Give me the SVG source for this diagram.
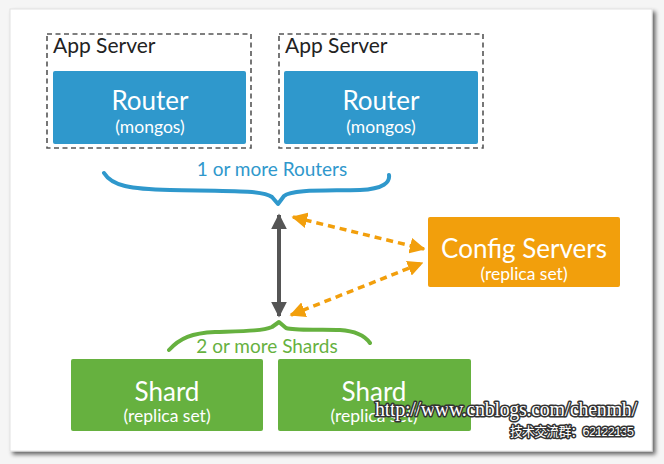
<svg xmlns="http://www.w3.org/2000/svg" width="664" height="464" viewBox="0 0 664 464">
<defs>
<style>
.t{font-family:Lato,"Open Sans","Liberation Sans",sans-serif;}
.big{font-size:26px;fill:#fff;text-anchor:middle;}
.sub{font-size:17.5px;fill:#fff;text-anchor:middle;}
.lbl{font-size:21px;fill:#222;}
.dash{fill:none;stroke:#555;stroke-width:1.6;stroke-dasharray:5,3.5;}
.router{fill:#2f98cc;}
.shard{fill:#66b13f;}
.cfg{fill:#f29f0c;}
.wm{font-family:"Liberation Serif",serif;fill:#fff;stroke:#333;stroke-width:3;paint-order:stroke;stroke-linejoin:round;}
</style>
<filter id="sh" x="-5%" y="-5%" width="115%" height="115%">
<feGaussianBlur in="SourceAlpha" stdDeviation="2"/>
<feOffset dx="3" dy="3"/>
<feComponentTransfer><feFuncA type="linear" slope="0.6"/></feComponentTransfer>
<feMerge><feMergeNode/><feMergeNode in="SourceGraphic"/></feMerge>
</filter>
<marker id="ga" viewBox="0 0 10 10" refX="9" refY="5" markerWidth="4" markerHeight="4" orient="auto-start-reverse" markerUnits="strokeWidth">
<path d="M0,0 L10,5 L0,10 z" fill="#555"/>
</marker>
<marker id="oa" viewBox="0 0 10 10" refX="9" refY="5" markerWidth="4.5" markerHeight="4.5" orient="auto-start-reverse" markerUnits="strokeWidth">
<path d="M0,0 L10,5 L0,10 z" fill="#f29f0c"/>
</marker>
</defs>
<rect width="664" height="464" fill="#f5f5f5"/>
<rect x="10" y="9" width="642" height="442" fill="#fff" stroke="#e2e2e2" stroke-width="1" filter="url(#sh)"/>

<g id="appserver1">
<rect class="dash" x="47" y="34" width="204" height="114"/>
<text class="t lbl" x="53" y="53">App Server</text>
</g>
<g id="router1">
<rect class="router" x="53" y="71" width="193" height="73" rx="2"/>
<text class="t big" x="150" y="110">Router</text>
<text class="t sub" x="150" y="133">(mongos)</text>
</g>
<g id="appserver2">
<rect class="dash" x="279" y="34" width="204" height="114"/>
<text class="t lbl" x="285" y="53">App Server</text>
</g>
<g id="router2">
<rect class="router" x="284" y="71" width="194" height="73" rx="2"/>
<text class="t big" x="381" y="110">Router</text>
<text class="t sub" x="381" y="133">(mongos)</text>
</g>

<g id="routers-brace">
<text class="t" x="272" y="176" font-size="19" fill="#2f98cc" text-anchor="middle">1 or more Routers</text>
<path d="M104,173 C112,186 130,189 170,190 C230,191 262,190 272,197 L278,204 L284,196 C292,189 330,191 360,190 C384,189 390,182 389,175" fill="none" stroke="#2f98cc" stroke-width="4" stroke-linecap="round" stroke-linejoin="round"/>
</g>

<g id="config">
<rect class="cfg" x="428" y="217" width="192" height="70" rx="2"/>
<text class="t big" x="524" y="258">Config Servers</text>
<text class="t sub" x="524" y="280">(replica set)</text>
</g>

<g id="shards-brace">
<path d="M169,350 C180,338 192,333 215,332 C245,331 262,331 272,327 L279,322 L286,328 C296,331 320,329 340,330 C356,331 365,336 370,343" fill="none" stroke="#66b13f" stroke-width="4" stroke-linecap="round" stroke-linejoin="round"/>
<text class="t" x="267" y="353" font-size="19" fill="#66b13f" text-anchor="middle">2 or more Shards</text>
</g>

<g id="shard1">
<rect class="shard" x="71" y="359" width="192" height="72" rx="2"/>
<text class="t big" x="167" y="401">Shard</text>
<text class="t sub" x="167" y="422">(replica set)</text>
</g>
<g id="shard2">
<rect class="shard" x="278" y="359" width="193" height="72" rx="2"/>
<text class="t big" x="374" y="401">Shard</text>
<text class="t sub" x="374" y="422">(replica set)</text>
</g>

<g id="connectors">
<line x1="279" y1="215" x2="279" y2="316" stroke="#555" stroke-width="4" marker-start="url(#ga)" marker-end="url(#ga)"/>
<line x1="293" y1="217" x2="424" y2="249" stroke="#f29f0c" stroke-width="3.5" stroke-dasharray="7,5" marker-start="url(#oa)" marker-end="url(#oa)"/>
<line x1="291" y1="315" x2="422" y2="263" stroke="#f29f0c" stroke-width="3.5" stroke-dasharray="7,5" marker-start="url(#oa)" marker-end="url(#oa)"/>
</g>

<text class="wm" x="375" y="416" font-size="20" textLength="262">http://www.cnblogs.com/chenmh/</text>
<text class="wm" x="510" y="436" font-size="13" stroke-width="2.5" textLength="124" style="font-family:'Liberation Sans','Noto Sans CJK SC',sans-serif">技术交流群：62122135</text>
</svg>
